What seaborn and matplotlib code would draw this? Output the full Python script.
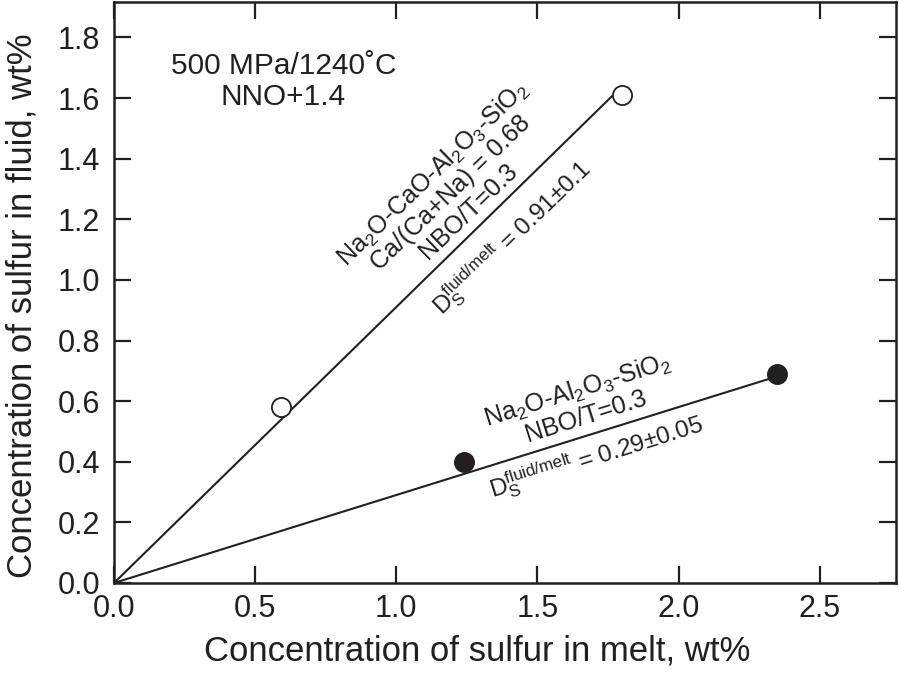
import matplotlib
matplotlib.use("Agg")
import matplotlib.pyplot as plt
import seaborn as sns
import pandas as pd

# ---- data ----
open_x = [0.59, 1.80]          # Na2O-CaO-Al2O3-SiO2
open_y = [0.58, 1.61]
filled_x = [1.24, 2.35]        # Na2O-Al2O3-SiO2
filled_y = [0.40, 0.69]
fit1_x = [0.0, 1.79]           # D = 0.91
fit1_y = [0.0, 1.63]
fit2_x = [0.0, 2.36]           # D = 0.29
fit2_y = [0.0, 0.685]
xticks = [0.0, 0.5, 1.0, 1.5, 2.0, 2.5]
yticks = [0.0, 0.2, 0.4, 0.6, 0.8, 1.0, 1.2, 1.4, 1.6, 1.8]

sns.set_style("ticks")
plt.rcParams['font.family'] = ['Liberation Sans', 'DejaVu Sans']
plt.rcParams['mathtext.fontset'] = 'custom'
plt.rcParams['mathtext.rm'] = 'Liberation Sans'
plt.rcParams['mathtext.it'] = 'Liberation Sans'
plt.rcParams['mathtext.bf'] = 'Liberation Sans'

fig = plt.figure(figsize=(8.99, 6.76), dpi=100)
ax = fig.add_axes([0.1268, 0.1376, 0.8699, 0.8594])

sns.lineplot(x=fit1_x, y=fit1_y, ax=ax, color='#231f20', linewidth=1.5, zorder=2)
sns.lineplot(x=fit2_x, y=fit2_y, ax=ax, color='#231f20', linewidth=1.5, zorder=2)

df_open = pd.DataFrame({'x': open_x, 'y': open_y})
df_filled = pd.DataFrame({'x': filled_x, 'y': filled_y})
sns.scatterplot(data=df_open, x='x', y='y', ax=ax, s=190, facecolor='white',
                edgecolor='#231f20', linewidth=1.3, zorder=3)
sns.scatterplot(data=df_filled, x='x', y='y', ax=ax, s=190, color='#231f20',
                edgecolor='#231f20', linewidth=1.3, zorder=3)

ax.set_xlim(0, 2.77)
ax.set_ylim(0, 1.917)
ax.set_xticks(xticks)
ax.set_yticks(yticks)
ax.set_xticklabels([f"{v:.1f}" for v in xticks])
ax.set_yticklabels([f"{v:.1f}" for v in yticks])
ax.tick_params(direction='in', length=12, width=1.6, top=True, right=True,
               labelsize=22, colors='#231f20', pad=8)
ax.tick_params(axis='y', pad=10)
for s in ax.spines.values():
    s.set_visible(True)
    s.set_linewidth(1.8)
    s.set_color('#231f20')

ax.set_xlabel("Concentration of sulfur in melt, wt%", fontsize=25, color='#231f20')
ax.set_ylabel("Concentration of sulfur in fluid, wt%", fontsize=25, color='#231f20')
ax.xaxis.set_label_coords(0.465, -0.0895)
ax.yaxis.set_label_coords(-0.096, 0.477)

tc = '#231f20'
ax.text(0.60, 1.655, "500 MPa/1240˚C\nNNO+1.4", fontsize=21.5, ha='center', va='center',
        color=tc, linespacing=1.15)

ax.text(1.19, 1.29, "Na$_2$O-CaO-Al$_2$O$_3$-SiO$_2$\nCa/(Ca+Na) = 0.68\nNBO/T=0.3",
        fontsize=18, ha='center', va='center', rotation=44, rotation_mode='anchor',
        multialignment='center', color=tc, linespacing=1.05)
ax.text(1.41, 1.139, r"D$_\mathregular{S}^\mathregular{fluid/melt}$ = 0.91±0.1",
        fontsize=17.5, ha='center', va='center', rotation=44, rotation_mode='anchor', color=tc)

ax.text(1.657, 0.594, "Na$_2$O-Al$_2$O$_3$-SiO$_2$\nNBO/T=0.3",
        fontsize=18, ha='center', va='center', rotation=17.5, rotation_mode='anchor',
        multialignment='center', color=tc, linespacing=1.05)
ax.text(1.71, 0.415, r"D$_\mathregular{S}^\mathregular{fluid/melt}$ = 0.29±0.05",
        fontsize=17.5, ha='center', va='center', rotation=17.5, rotation_mode='anchor', color=tc)

fig.savefig("out.png", dpi=100)
